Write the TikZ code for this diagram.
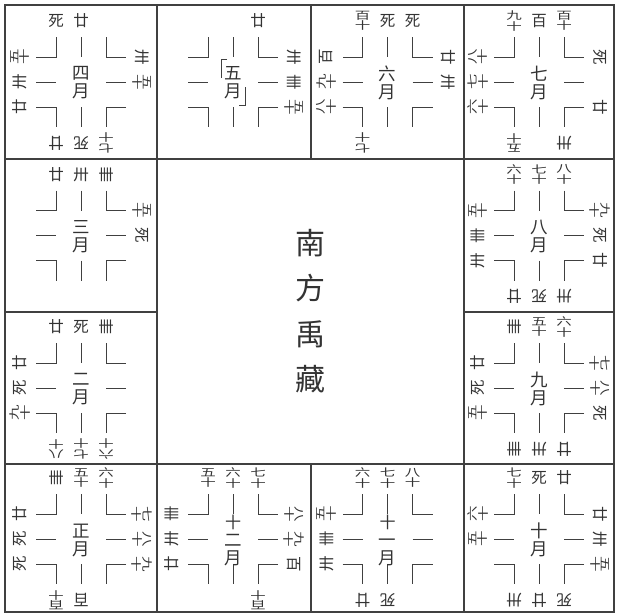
\documentclass[tikz,border=0pt]{standalone}
\usepackage{graphicx}
\usepackage{fontspec}
\newfontfamily\cjk{Noto Sans CJK SC}
\newcounter{lc}
\tikzset{
  spoke/.style={line width=0.95pt, draw=black!75, line cap=butt},
  gridline/.style={line width=1.1pt, draw=black!75},
  lab/.style={font=\cjk\fontsize{15.5}{15}\selectfont, inner sep=0pt, align=center, text=black!80},
  mon/.style={font=\cjk\fontsize{17.5}{18}\selectfont, inner sep=0pt, align=center, text=black!80},
  title/.style={font=\cjk\fontsize{30}{45.5}\selectfont, inner sep=0pt, align=center, text=black!80}
}
\newcommand\dbl[2]{\scalebox{1}[0.68]{\vbox{\baselineskip=15.5pt\hbox{#1}\hbox{#2}}}}
\newcommand\spokes{%
  \draw[spoke] (-25,-45)--(-25,-25)--(-45,-25);
  \draw[spoke] (0,-45)--(0,-25);
  \draw[spoke] (25,-45)--(25,-25)--(45,-25);
  \draw[spoke] (-45,0)--(-25,0);
  \draw[spoke] (25,0)--(45,0);
  \draw[spoke] (-45,25)--(-25,25)--(-25,45);
  \draw[spoke] (0,25)--(0,45);
  \draw[spoke] (45,25)--(25,25)--(25,45);
}
\newcommand\monthlab[1]{\stepcounter{lc}\node[mon] (m\thelc) at (0,1) {#1};}
\newcommand\labT[2]{\stepcounter{lc}\node[lab] (t\thelc) at (#1,-61) {#2};}
\newcommand\labR[2]{\stepcounter{lc}\node[lab,rotate=-90] (r\thelc) at (61,#1) {#2};}
\newcommand\labB[2]{\stepcounter{lc}\node[lab,rotate=180] (b\thelc) at (#1,61) {#2};}
\newcommand\labL[2]{\stepcounter{lc}\node[lab,rotate=90] (l\thelc) at (-61,#1) {#2};}
\begin{document}
\begin{tikzpicture}[x=1pt,y=-1pt]
\useasboundingbox (0,0) rectangle (617,614);
% grid
\draw[gridline] (5,5) rectangle (614,612);
\draw[gridline] (157,5)--(157,612);
\draw[gridline] (464,5)--(464,612);
\draw[gridline] (5,159)--(614,159);
\draw[gridline] (5,464)--(614,464);
\draw[gridline] (311,5)--(311,159);
\draw[gridline] (311,464)--(311,612);
\draw[gridline] (5,312)--(157,312);
\draw[gridline] (464,312)--(614,312);
% centre
\node[title] (centre) at (310,311) {南\\方\\禹\\藏};
% 四月
\begin{scope}[shift={(81,82)}]
\spokes\monthlab{四\\月}
\labT{-25}{死}\labT{0}{廿}
\labR{-25}{卅}\labR{0}{\dbl{五}{十}}
\labB{-25}{廿}\labB{0}{死}\labB{25}{\dbl{七}{十}}
\labL{-25}{\dbl{五}{十}}\labL{0}{卅}\labL{25}{廿}
\end{scope}
% 五月
\begin{scope}[shift={(233,82)}]
\spokes\monthlab{五\\月}
\draw[spoke,line width=0.8pt] (-6,-23)--(-12,-23)--(-12,-4);
\draw[spoke,line width=0.8pt] (12,5)--(12,23)--(6,23);
\labT{25}{廿}
\labR{-25}{卅}\labR{0}{卌}\labR{25}{\dbl{五}{十}}
\end{scope}
% 六月
\begin{scope}[shift={(387.5,82)}]
\spokes\monthlab{六\\月}
\labT{-25}{\dbl{百}{十}}\labT{0}{死}\labT{25}{死}
\labR{-25}{廿}\labR{0}{卅}
\labB{-25}{\dbl{七}{十}}
\labL{-25}{百}\labL{0}{\dbl{九}{十}}\labL{25}{\dbl{八}{十}}
\end{scope}
% 七月
\begin{scope}[shift={(539,82)}]
\spokes\monthlab{七\\月}
\labT{-25}{\dbl{九}{十}}\labT{0}{百}\labT{25}{\dbl{百}{十}}
\labR{-25}{死}\labR{25}{廿}
\labB{-25}{\dbl{五}{十}}\labB{25}{卅}
\labL{-25}{\dbl{八}{十}}\labL{0}{\dbl{七}{十}}\labL{25}{\dbl{六}{十}}
\end{scope}
% 三月
\begin{scope}[shift={(81,235.5)}]
\spokes\monthlab{三\\月}
\labT{-25}{廿}\labT{0}{卅}\labT{25}{卌}
\labR{-25}{\dbl{五}{十}}\labR{0}{死}
\end{scope}
% 八月
\begin{scope}[shift={(539,235.5)}]
\spokes\monthlab{八\\月}
\labT{-25}{\dbl{六}{十}}\labT{0}{\dbl{七}{十}}\labT{25}{\dbl{八}{十}}
\labR{-25}{\dbl{九}{十}}\labR{0}{死}\labR{25}{廿}
\labB{-25}{廿}\labB{0}{死}\labB{25}{卅}
\labL{-25}{\dbl{五}{十}}\labL{0}{卌}\labL{25}{卅}
\end{scope}
% 二月
\begin{scope}[shift={(81,388)}]
\spokes\monthlab{二\\月}
\labT{-25}{廿}\labT{0}{死}\labT{25}{卌}
\labB{-25}{\dbl{八}{十}}\labB{0}{\dbl{七}{十}}\labB{25}{\dbl{六}{十}}
\labL{-25}{廿}\labL{0}{死}\labL{25}{\dbl{九}{十}}
\end{scope}
% 九月
\begin{scope}[shift={(539,388)}]
\spokes\monthlab{九\\月}
\labT{-25}{卌}\labT{0}{\dbl{五}{十}}\labT{25}{\dbl{六}{十}}
\labR{-25}{\dbl{七}{十}}\labR{0}{\dbl{八}{十}}\labR{25}{死}
\labB{-25}{卌}\labB{0}{卅}\labB{25}{廿}
\labL{-25}{廿}\labL{0}{死}\labL{25}{\dbl{五}{十}}
\end{scope}
% 正月
\begin{scope}[shift={(81,539)}]
\spokes\monthlab{正\\月}
\labT{-25}{卌}\labT{0}{\dbl{五}{十}}\labT{25}{\dbl{六}{十}}
\labR{-25}{\dbl{七}{十}}\labR{0}{\dbl{八}{十}}\labR{25}{\dbl{九}{十}}
\labB{-25}{\dbl{百}{十}}\labB{0}{百}
\labL{-25}{廿}\labL{0}{死}\labL{25}{死}
\end{scope}
% 十二月
\begin{scope}[shift={(233,539)}]
\spokes\monthlab{\fontsize{16}{14}\selectfont 十\\二\\月}
\labT{-25}{\dbl{五}{十}}\labT{0}{\dbl{六}{十}}\labT{25}{\dbl{七}{十}}
\labR{-25}{\dbl{八}{十}}\labR{0}{\dbl{九}{十}}\labR{25}{百}
\labB{25}{\dbl{百}{十}}
\labL{-25}{卌}\labL{0}{卅}\labL{25}{廿}
\end{scope}
% 十一月
\begin{scope}[shift={(387.5,539)}]
\spokes\monthlab{\fontsize{16}{14}\selectfont 十\\一\\月}
\labT{-25}{\dbl{六}{十}}\labT{0}{\dbl{七}{十}}\labT{25}{\dbl{八}{十}}
\labB{-25}{廿}\labB{0}{死}
\labL{-25}{\dbl{五}{十}}\labL{0}{卌}\labL{25}{卅}
\end{scope}
% 十月
\begin{scope}[shift={(539,539)}]
\spokes\monthlab{十\\月}
\labT{-25}{\dbl{七}{十}}\labT{0}{死}\labT{25}{廿}
\labR{-25}{廿}\labR{0}{卅}\labR{25}{\dbl{五}{十}}
\labB{-25}{卅}\labB{0}{廿}\labB{25}{死}
\labL{-25}{\dbl{六}{十}}\labL{0}{\dbl{五}{十}}
\end{scope}
\end{tikzpicture}
\end{document}
